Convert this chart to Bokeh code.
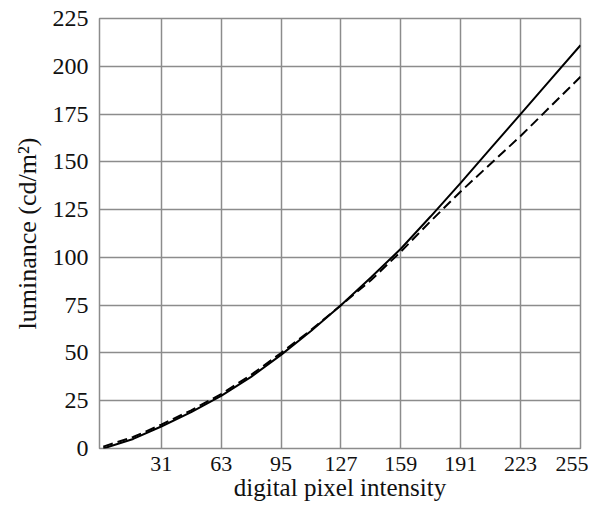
from bokeh.plotting import figure
from bokeh.models import Range1d, FixedTicker
from bokeh.embed import file_html
from bokeh.resources import INLINE

# data
x_vals = [0, 16, 31, 47, 63, 79, 95, 111, 127, 143, 159, 175, 191, 207, 223, 239, 255]
solid_y = [0, 5, 11.5, 19, 27.5, 37.5, 49, 61.5, 75, 89.5, 104.5, 121.5, 139, 157, 175, 193, 211]
dashed_y = [1, 6, 12.5, 20, 28.5, 38.5, 50, 62, 75, 88, 103, 119, 134.5, 149, 163.5, 179, 194.5]
x_ticks = [31, 63, 95, 127, 159, 191, 223, 255]
y_ticks = [0, 25, 50, 75, 100, 125, 150, 175, 200, 225]

FONT = "'Liberation Serif', serif"

p = figure(width=588, height=505, output_backend="svg", toolbar_location=None,
           x_range=Range1d(-2, 255), y_range=Range1d(0, 225),
           min_border_left=99, min_border_right=8, min_border_top=18, min_border_bottom=57)

p.line(x_vals, solid_y, line_color="black", line_width=2)
p.line(x_vals, dashed_y, line_color="black", line_width=2, line_dash="10 5")

p.xaxis.ticker = FixedTicker(ticks=x_ticks)
p.yaxis.ticker = FixedTicker(ticks=y_ticks)
p.xaxis.axis_label = "digital pixel intensity"
p.yaxis.axis_label = "luminance (cd/m²)"

for ax in (p.xaxis, p.yaxis):
    ax.axis_line_color = None
    ax.major_tick_line_color = None
    ax.minor_tick_line_color = None
    ax.major_label_text_font = FONT
    ax.major_label_text_color = "#111111"
    ax.axis_label_text_font = FONT
    ax.axis_label_text_font_style = "normal"
    ax.axis_label_text_color = "#111111"

p.xaxis.major_label_text_font_size = "22px"
p.xaxis.axis_label_text_font_size = "25px"
p.yaxis.major_label_text_font_size = "24px"
p.yaxis.axis_label_text_font_size = "26px"

p.xaxis.major_label_standoff = 2
p.xaxis.axis_label_standoff = 0
p.yaxis.major_label_standoff = 5
p.yaxis.axis_label_standoff = 8

for g in (p.xgrid, p.ygrid):
    g.grid_line_color = "#8c8c8c"
    g.grid_line_width = 1.5

p.outline_line_color = "#8c8c8c"
p.outline_line_width = 1.5

open("out.html", "w").write(file_html(p, INLINE))
